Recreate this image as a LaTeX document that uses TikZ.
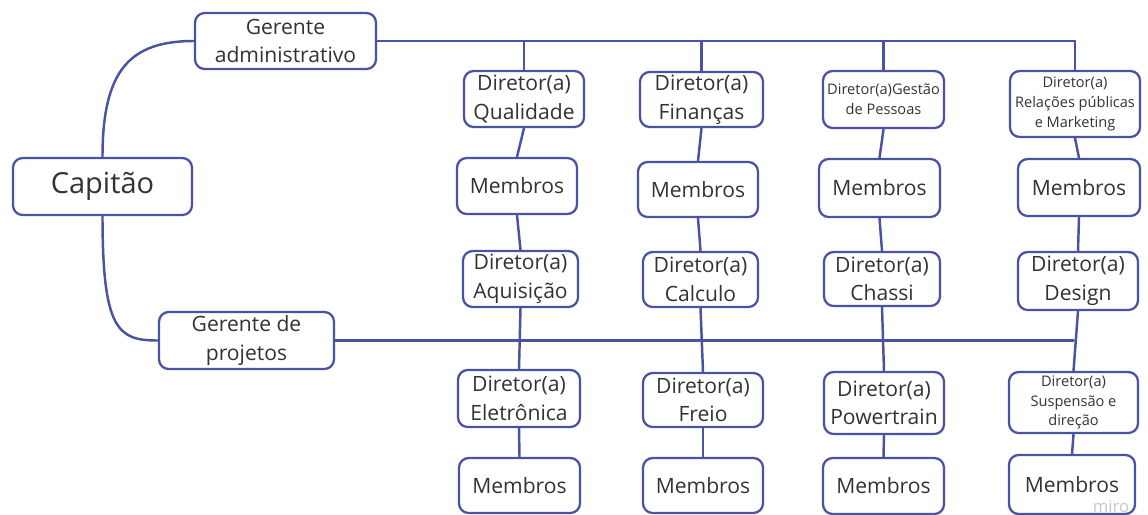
\documentclass[tikz,border=0pt]{standalone}
\usepackage{fontspec}
\setmainfont{Open Sans}
\definecolor{linha}{RGB}{74,82,163}
\definecolor{texto}{RGB}{51,51,51}

\begin{document}
\begin{tikzpicture}[x=0.02cm,y=-0.02cm,line cap=round,line join=round,
  caixa/.style 2 args={draw=linha,line width=1.3pt,rounded corners=5.5pt,fill=white,
    text=texto,align=center,inner sep=0pt,
    minimum width=#1*0.02cm,minimum height=#2*0.02cm,
    font=\fontsize{12}{16.3}\selectfont},
  miuda/.style={font=\fontsize{8.3}{11.3}\selectfont},
  grande/.style={font=\fontsize{16.5}{22}\selectfont},
  liga/.style={draw=linha,line width=1.4pt}]
  \useasboundingbox (0,0) rectangle (1148,514);
  % gerentes e capitao
  \node[caixa={179}{57},grande] (cap) at (102.5,186.5) {Capitão};
  \node[caixa={181}{56}] (gadm) at (285.5,41) {Gerente\\administrativo};
  \node[caixa={175}{57}] (gproj) at (246.5,340.5) {Gerente de\\projetos};
  % diretorias ligadas ao gerente administrativo
  \node[caixa={120}{56}] (dq) at (524,99) {Diretor(a)\\Qualidade};
  \node[caixa={123}{55}] (df) at (701.5,99.5) {Diretor(a)\\Finanças};
  \node[caixa={121}{57},miuda] (dg) at (883.5,99.5) {Diretor(a)Gestão\\de Pessoas};
  \node[caixa={130}{66},miuda] (dr) at (1075,104) {Diretor(a)\\Relações públicas\\e Marketing};
  \node[caixa={120}{56}] (m1) at (517,186) {Membros};
  \node[caixa={120}{55}] (m2) at (698,189.5) {Membros};
  \node[caixa={121}{58}] (m3) at (879.5,188) {Membros};
  \node[caixa={122}{57}] (m4) at (1079,187.5) {Membros};
  % diretorias ligadas ao gerente de projetos
  \node[caixa={115}{56}] (da) at (520.5,279) {Diretor(a)\\Aquisição};
  \node[caixa={115}{55}] (dc) at (700.5,279.5) {Diretor(a)\\Calculo};
  \node[caixa={116}{54}] (dch) at (882,279) {Diretor(a)\\Chassi};
  \node[caixa={120}{58}] (dd) at (1078,281) {Diretor(a)\\Design};
  \node[caixa={122}{57}] (de) at (519,398.5) {Diretor(a)\\Eletrônica};
  \node[caixa={120}{54}] (dfr) at (703,400) {Diretor(a)\\Freio};
  \node[caixa={120}{62}] (dp) at (884,403) {Diretor(a)\\Powertrain};
  \node[caixa={129}{61},miuda] (ds) at (1073.5,402.5) {Diretor(a)\\Suspensão e\\direção};
  \node[caixa={121}{55}] (m5) at (519.5,485.5) {Membros};
  \node[caixa={120}{55}] (m6) at (703,485.5) {Membros};
  \node[caixa={121}{56}] (m7) at (883.5,486) {Membros};
  \node[caixa={126}{59}] (m8) at (1072,484.5) {Membros};
  \node[text=black!22,font=\fontsize{9.5}{11}\selectfont] (miro) at (1111,506) {miro};
  % ligacoes
  \draw[liga] (cap.north) .. controls (102.5,70) and (130,41) .. (gadm.west);
  \draw[liga] (cap.south) .. controls (102.5,330) and (118,340.5) .. (gproj.west);
  \draw[liga] (gadm.east) -- (gadm.east -| dr.north);
  \draw[liga] (gproj.east) -- (gproj.east -| ds.north);
  \foreach \n in {dq,df,dg,dr} {
    \draw[liga] (\n.north |- gadm.east) -- (\n.north);
  }
  \foreach \a/\b in {dq/m1,m1/da,da/de,de/m5,df/m2,m2/dc,dc/dfr,dfr/m6,
                     dg/m3,m3/dch,dch/dp,dp/m7,dr/m4,m4/dd,dd/ds,ds/m8} {
    \draw[liga] (\a.south) -- (\b.north);
  }
\end{tikzpicture}
\end{document}
